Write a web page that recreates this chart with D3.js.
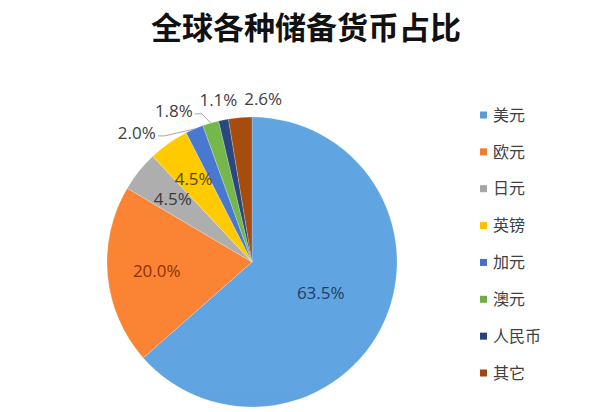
<!DOCTYPE html>
<html>
<head>
<meta charset="utf-8">
<script src="https://cdn.jsdelivr.net/npm/d3@7"></script>
<style>
  body { margin: 0; background: #ffffff; }
  text { font-family: "Noto Sans CJK SC", "Noto Sans", sans-serif; }
  .label { font-family: "Open Sans", "Noto Sans", sans-serif; }
</style>
</head>
<body>
<svg id="chart" width="616" height="412"></svg>
<script>
"use strict";

// chart data
const categories = ["美元", "欧元", "日元", "英镑", "加元", "澳元", "人民币", "其它"];
const shares     = [63.5, 20.0, 4.5, 4.5, 2.0, 1.8, 1.1, 2.6];
const colors     = ["#5b9bd5", "#ed7d31", "#a5a5a5", "#ffc000", "#4472c4", "#70ad47", "#264478", "#9e480e"];
const labelInk   = ["#1f3d63", "#8a3208", "#3a3a3a", "#5a4608", "#404040", "#404040", "#404040", "#404040"];
const titleText  = "全球各种储备货币占比";

const svg = d3.select("#chart");
const cx = 252, cy = 262, radius = 145;

/* Title */
svg.append("text")
    .attr("x", 306).attr("y", 39)
    .attr("text-anchor", "middle")
    .style("font-size", "31px")
    .style("font-weight", "bold")
    .style("fill", "#111")
    .text(titleText);

/* Slight vertical gradient per slice, like the office style */
const defs = svg.append("defs");
colors.forEach((c, i) => {
  let g = defs.append("linearGradient")
      .attr("id", "grad" + i)
      .attr("gradientUnits", "userSpaceOnUse")
      .attr("x1", 0).attr("y1", cy - radius)
      .attr("x2", 0).attr("y2", cy + radius);
  g.append("stop").attr("offset", "0%").attr("stop-color", d3.color(c).brighter(0.15));
  g.append("stop").attr("offset", "100%").attr("stop-color", d3.color(c).darker(0.15));
});

const pie = d3.pie().sort(null).value(d => d.value);
const arcs = pie(categories.map((name, i) => ({ name: name, value: shares[i], idx: i })));

const arc = d3.arc().innerRadius(0).outerRadius(radius);

const g = svg.append("g").attr("transform", `translate(${cx},${cy})`);

g.selectAll("path.slice")
    .data(arcs)
    .enter().append("path")
    .attr("class", "slice")
    .attr("d", arc)
    .attr("fill", d => `url(#grad${d.data.idx})`)
    .attr("stroke", "#ffffff")
    .attr("stroke-opacity", 0.35)
    .attr("stroke-width", 0.6);

/* Inside labels: big enough slices get their value at a fraction of the radius */
const insideFactor = d => d.data.value > 30 ? 0.52 : (d.data.value > 10 ? 0.66 : 0.7);
const midAngle = d => (d.startAngle + d.endAngle) / 2;
const inside = arcs.filter(d => d.data.value >= 4);
const outside = arcs.filter(d => d.data.value < 4);
const fmt = v => v.toFixed(1) + "%";

g.selectAll("text.inLabel")
    .data(inside)
    .enter().append("text")
    .attr("class", "label inLabel")
    .attr("x", d => Math.sin(midAngle(d)) * radius * insideFactor(d))
    .attr("y", d => -Math.cos(midAngle(d)) * radius * insideFactor(d))
    .attr("dy", "0.35em")
    .attr("text-anchor", "middle")
    .style("font-size", "17px")
    .style("fill", d => labelInk[d.data.idx])
    .text(d => fmt(d.data.value));

/* Outside labels: the box sits a fixed distance off the rim, then they are relaxed apart */
const lw = 40, lh = 18, gap = 4, rimGap = 8;
let nodes = outside.map(d => ({ d: d, a: midAngle(d) }));
const pos = n => {
  let s = Math.sin(n.a), c = Math.cos(n.a);
  let r = radius + rimGap + Math.abs(s) * lw / 2 + Math.abs(c) * lh / 2;
  return { x: s * r, y: -c * r };
};

for (let iter = 0; iter < 600; iter++) {
  let moved = false;
  for (let i = 0; i < nodes.length; i++) {
    for (let j = i + 1; j < nodes.length; j++) {
      let p = pos(nodes[i]), q = pos(nodes[j]);
      if (Math.abs(p.x - q.x) < lw + gap && Math.abs(p.y - q.y) < lh + gap) {
        let hi = nodes[i].a > nodes[j].a ? nodes[i] : nodes[j];
        let lo = hi === nodes[i] ? nodes[j] : nodes[i];
        // the big slice sits on the right, so labels lean to the left side
        hi.a += 0.003; lo.a -= 0.005;
        moved = true;
      }
    }
  }
  if (!moved) break;
}

nodes.forEach(n => {
  let p = pos(n);
  let edgeA = midAngle(n.d);
  let ex = Math.sin(edgeA) * radius, ey = -Math.cos(edgeA) * radius;
  // leader line only when the label was pushed to the left of its slice
  if (edgeA - n.a > 0.1) {
    let sx = p.x + lw / 2 + 1, sy = p.y + 3;
    g.append("polyline")
        .attr("points", [[sx, sy], [sx + 7, sy], [ex, ey]].map(v => v.join(",")).join(" "))
        .attr("fill", "none")
        .attr("stroke", "#a6a6a6")
        .attr("stroke-width", 1);
  }
  g.append("text")
      .attr("class", "label")
      .attr("x", p.x).attr("y", p.y)
      .attr("dy", "0.35em")
      .attr("text-anchor", "middle")
      .style("font-size", "17px")
      .style("fill", labelInk[n.d.data.idx])
      .text(fmt(n.d.data.value));
});

/* Legend */
const legendY = d3.scalePoint().domain(categories).range([115, 373]);
const legend = svg.append("g").attr("class", "legend")
    .selectAll("g")
    .data(categories)
    .enter().append("g")
    .attr("transform", d => `translate(480,${legendY(d)})`);

legend.append("rect")
    .attr("x", 0).attr("y", -3.5)
    .attr("width", 7).attr("height", 7)
    .attr("fill", (d, i) => colors[i]);

legend.append("text")
    .attr("x", 13).attr("y", 0)
    .attr("dy", "0.36em")
    .style("font-size", "16px")
    .style("fill", "#404040")
    .text(d => d);
</script>
</body>
</html>
